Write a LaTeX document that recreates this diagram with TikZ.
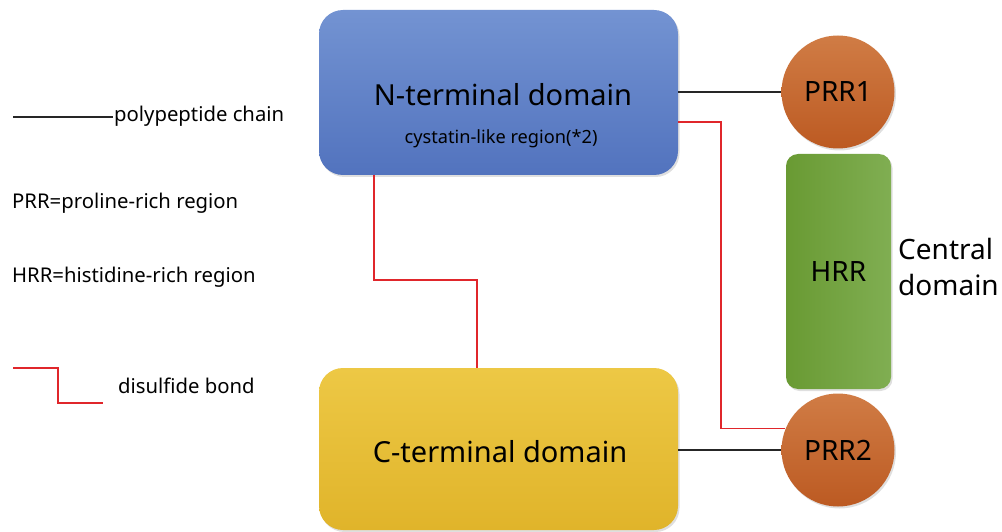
\documentclass[tikz,border=0pt]{standalone}
\usepackage{fontspec}
\setmainfont{Noto Sans}
\usetikzlibrary{shadows}
\definecolor{nTop}{HTML}{7393D2}
\definecolor{nBot}{HTML}{5273BE}
\definecolor{cTop}{HTML}{EDC845}
\definecolor{cBot}{HTML}{E0B42A}
\definecolor{pTop}{HTML}{D07C45}
\definecolor{pBot}{HTML}{BC5A22}
\definecolor{hL}{HTML}{699A33}
\definecolor{hR}{HTML}{80AE52}
\definecolor{redln}{HTML}{E0262B}
\tikzset{
  domainbox/.style={rectangle, rounded corners=24pt, draw=none, minimum width=359pt, minimum height=165pt,
    drop shadow={opacity=0.25, shadow xshift=1.5pt, shadow yshift=-2pt}},
  prrcircle/.style={circle, draw=none, minimum size=113pt, top color=pTop, bottom color=pBot,
    drop shadow={opacity=0.25, shadow xshift=1.5pt, shadow yshift=-2pt}, font=\fontsize{28}{30}\selectfont},
  hrrbox/.style={rectangle, rounded corners=12pt, draw=none, minimum width=105pt, minimum height=235pt,
    left color=hL, right color=hR, drop shadow={opacity=0.25, shadow xshift=1.5pt, shadow yshift=-2pt},
    font=\fontsize{28}{30}\selectfont},
  bigtxt/.style={font=\fontsize{29}{30}\selectfont, inner sep=0pt},
  smalltxt/.style={font=\fontsize{20.3}{22}\selectfont, inner sep=0pt, anchor=west},
  chain/.style={draw=black!85, line width=1.4pt},
  ssbond/.style={draw=redln, line width=1.4pt},
}
\begin{document}
\begin{tikzpicture}[x=1pt,y=-1pt]
\useasboundingbox (0,0) rectangle (1002,532);
% domains
\node[domainbox, top color=nTop, bottom color=nBot] (N) at (498.5,92.5) {};
\node[domainbox, top color=cTop, bottom color=cBot, minimum height=162pt] (C) at (498.5,449) {};
\node[bigtxt] (Nt) at (503,95) {N-terminal domain};
\node[font=\fontsize{18.2}{20}\selectfont, inner sep=0pt] (Ns) at (501,139) {cystatin-like region(*2)};
\node[bigtxt] (Ct) at (500,452) {C-terminal domain};
% central domain
\node[prrcircle] (P1) at (838,92) {PRR1};
\node[prrcircle] (P2) at (838,450) {PRR2};
\node[hrrbox] (H) at (838.5,271.5) {HRR};
\node[font=\fontsize{28}{36}\selectfont, align=left, anchor=west, inner sep=0pt] (Cd) at (898,267) {Central\\domain};
% connectors
\draw[chain] (N.east |- P1.west) -- (P1.west);
\draw[chain] (C.east |- P2.west) -- (P2.west);
\coordinate (r1) at (721,122);
\draw[ssbond] (N.east |- r1) -- (r1) |- (P2.158);
\coordinate (r2) at (374,280);
\coordinate (r3) at (477,280);
\draw[ssbond] (N.south -| r2) -- (r2) -- (r3) -- (C.north -| r3);
% legend
\coordinate (l1) at (13,117);
\coordinate (l2) at (113,117);
\draw[chain] (l1) -- (l2);
\node[smalltxt] (L1) at (114,116) {polypeptide chain};
\node[smalltxt] (L2) at (12,203) {PRR=proline-rich region};
\node[smalltxt] (L3) at (12,277) {HRR=histidine-rich region};
\coordinate (d1) at (13,368);
\coordinate (d2) at (58,368);
\coordinate (d3) at (58,403);
\coordinate (d4) at (103,403);
\draw[ssbond, line width=1.2pt] (d1) -- (d2) -- (d3) -- (d4);
\node[smalltxt] (L4) at (118,386) {disulfide bond};
\end{tikzpicture}
\end{document}
